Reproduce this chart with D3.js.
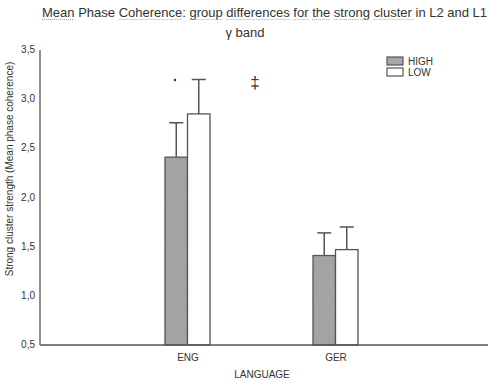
<!DOCTYPE html>
<html lang="en">
<head>
<meta charset="UTF-8">
<title>Mean Phase Coherence</title>
<script src="https://d3js.org/d3.v7.min.js"></script>
<style>
    body { margin: 0; background: #fff; }
    text { font-family: "Liberation Sans", Arial, sans-serif; fill: #333; }
</style>
</head>
<body>
<svg id="chart" width="490" height="382"></svg>
<script>
    const languages = ["ENG", "GER"];
    const groups = ["HIGH", "LOW"];
    const meanHigh = [2.41, 1.41];
    const meanLow = [2.85, 1.47];
    const errHigh = [2.76, 1.64];
    const errLow = [3.20, 1.70];
    const yTicks = [0.5, 1.0, 1.5, 2.0, 2.5, 3.0, 3.5];

    const svg = d3.select("#chart");
    const plotLeft = 40, plotRight = 484, plotTop = 50, plotBottom = 345;

    const defs = svg.append("defs");
    const pat = defs.append("pattern")
        .attr("id", "hatch")
        .attr("patternUnits", "userSpaceOnUse")
        .attr("width", 3).attr("height", 3)
        .attr("patternTransform", "rotate(45)");
    pat.append("rect").attr("width", 3).attr("height", 3).attr("fill", "#a6a6a6");
    pat.append("line").attr("x1", 0).attr("y1", 0).attr("x2", 0).attr("y2", 3)
        .attr("stroke", "#979797").attr("stroke-width", 1);

    const x = d3.scalePoint().domain(languages).range([plotLeft, plotRight]).padding(1);
    const sub = d3.scaleBand().domain(groups).range([-23, 22]).padding(0);
    const y = d3.scaleLinear().domain([0.5, 3.5]).range([plotBottom, plotTop]);

    const data = [];
    languages.forEach((lang, i) => {
        data.push({ lang, group: "HIGH", mean: meanHigh[i], err: errHigh[i] });
        data.push({ lang, group: "LOW", mean: meanLow[i], err: errLow[i] });
    });

    // error bars (drawn before bars so bar covers the lower part)
    const eb = svg.append("g").selectAll("g").data(data).enter().append("g");
    eb.append("line")
        .attr("x1", d => x(d.lang) + sub(d.group) + sub.bandwidth() / 2)
        .attr("x2", d => x(d.lang) + sub(d.group) + sub.bandwidth() / 2)
        .attr("y1", d => y(d.mean))
        .attr("y2", d => y(d.err))
        .attr("stroke", "#555").attr("stroke-width", 1.5);
    eb.append("line")
        .attr("x1", d => x(d.lang) + sub(d.group) + sub.bandwidth() / 2 - 7)
        .attr("x2", d => x(d.lang) + sub(d.group) + sub.bandwidth() / 2 + 7)
        .attr("y1", d => y(d.err))
        .attr("y2", d => y(d.err))
        .attr("stroke", "#555").attr("stroke-width", 1.5);

    svg.append("g").selectAll("rect").data(data).enter().append("rect")
        .attr("x", d => x(d.lang) + sub(d.group))
        .attr("y", d => y(d.mean))
        .attr("width", sub.bandwidth())
        .attr("height", d => plotBottom - y(d.mean))
        .attr("fill", d => d.group === "HIGH" ? "url(#hatch)" : "#fff")
        .attr("stroke", "#555").attr("stroke-width", 1.3);

    // axes
    svg.append("line").attr("x1", plotLeft).attr("x2", plotLeft)
        .attr("y1", plotTop).attr("y2", plotBottom)
        .attr("stroke", "#555").attr("stroke-width", 1.3);
    svg.append("line").attr("x1", plotLeft).attr("x2", 488)
        .attr("y1", plotBottom).attr("y2", plotBottom)
        .attr("stroke", "#555").attr("stroke-width", 1.3);

    svg.append("g").selectAll("text").data(yTicks).enter().append("text")
        .attr("x", 35).attr("y", d => y(d) + 3)
        .attr("text-anchor", "end")
        .style("font-size", "10px")
        .text(d => d.toFixed(1).replace(".", ","));

    svg.append("g").selectAll("text").data(languages).enter().append("text")
        .attr("x", d => x(d)).attr("y", 361)
        .attr("text-anchor", "middle")
        .style("font-size", "10px")
        .text(d => d);

    svg.append("text").attr("x", 262).attr("y", 378)
        .attr("text-anchor", "middle").style("font-size", "10px")
        .text("LANGUAGE");

    svg.append("text")
        .attr("transform", "translate(13,169) rotate(-90)")
        .attr("text-anchor", "middle").style("font-size", "10px")
        .text("Strong cluster strength (Mean phase coherence)");

    // significance markers
    svg.append("circle").attr("cx", x("ENG") - 13).attr("cy", 80).attr("r", 1.2).attr("fill", "#333");
    svg.append("text").attr("x", 255).attr("y", 88).attr("text-anchor", "middle")
        .style("font-size", "17px").text("\u2021");

    // legend
    const leg = svg.append("g").attr("transform", "translate(387,57)");
    groups.forEach((g, i) => {
        leg.append("rect").attr("x", 0).attr("y", i * 11).attr("width", 16).attr("height", 8)
            .attr("fill", g === "HIGH" ? "#a6a6a6" : "#fff")
            .attr("stroke", "#555").attr("stroke-width", 1.2);
        leg.append("text").attr("x", 21).attr("y", i * 11 + 8)
            .style("font-size", "10px").text(g);
    });

    // titles
    const title = svg.append("text").attr("x", 42).attr("y", 17).style("font-size", "13px");
    const words = ["Mean", " Phase ", "Coherence", ": ", "group", " ", "differences", " ", "for", " ",
        "the", " ", "strong", " ", "cluster", " in L2 and L1"];
    words.forEach(w => title.append("tspan").text(w));
    // faint spell-check style underlines
    title.selectAll("tspan").each(function () {
        const t = this.textContent.trim();
        if (!t || t === ":" || t === "Phase" || t.startsWith("in")) return;
        const bb = this.getBBox();
        svg.append("line").attr("x1", bb.x).attr("x2", bb.x + bb.width)
            .attr("y1", 19.5).attr("y2", 19.5)
            .attr("stroke", "#d99").attr("stroke-width", 1).attr("stroke-dasharray", "1,1");
    });

    svg.append("text").attr("x", 245).attr("y", 37).attr("text-anchor", "middle")
        .style("font-size", "13px").text("\u03b3 band");
</script>
</body>
</html>
